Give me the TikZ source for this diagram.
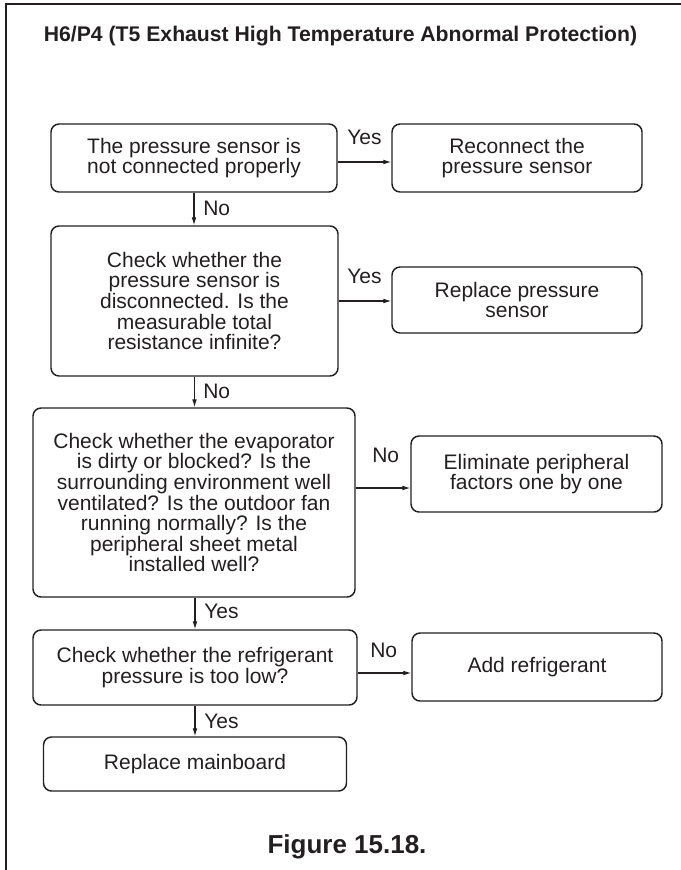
\documentclass[tikz,border=0pt]{standalone}
\usepackage{fontspec}
\setmainfont{Liberation Sans}
\usetikzlibrary{arrows.meta}
\definecolor{ink}{HTML}{231F20}
\def\pxu{0.75pt}
\begin{document}
\begin{tikzpicture}[x=0.75pt,y=-0.75pt,
  box/.style={draw=ink, line width=1.1pt, rounded corners=6pt, align=center, text=ink,
    font=\fontsize{15.75}{15.4}\selectfont, inner sep=0pt},
  lbl/.style={text=ink, font=\fontsize{15.75}{15.4}\selectfont, inner sep=0pt},
  arr/.style={draw=ink, line width=0.8pt, -{Latex[length=6pt,width=3.6pt]}},
]
\useasboundingbox (0,0) rectangle (681,870);
\draw[ink, line width=1.1pt] (6,870) -- (6,4) -- (681,4);

\node[lbl, anchor=base, font=\bfseries\fontsize{15.9}{18}\selectfont] (title) at (340.5,42)
  {H6/P4 (T5 Exhaust High Temperature Abnormal Protection)};

\node[box, minimum width={286*\pxu}, minimum height={68*\pxu}] (b1) at (194,158)
  {The pressure sensor is\\not connected properly};
\node[box, minimum width={250*\pxu}, minimum height={68*\pxu}] (b2) at (517,158)
  {Reconnect the\\pressure sensor};
\node[box, minimum width={287*\pxu}, minimum height={150*\pxu}] (b3) at (194.5,301)
  {Check whether the\\pressure sensor is\\disconnected. Is the\\measurable total\\resistance infinite?};
\node[box, minimum width={250*\pxu}, minimum height={66*\pxu}] (b4) at (517,300)
  {Replace pressure\\sensor};
\node[box, minimum width={322*\pxu}, minimum height={189*\pxu}] (b5) at (194,502.5)
  {Check whether the evaporator\\is dirty or blocked? Is the\\surrounding environment well\\ventilated? Is the outdoor fan\\running normally? Is the\\peripheral sheet metal\\installed well?};
\node[box, minimum width={251*\pxu}, minimum height={76*\pxu}] (b6) at (536.5,474)
  {Eliminate peripheral\\factors one by one};
\node[box, minimum width={324*\pxu}, minimum height={75*\pxu}] (b7) at (195,667.5)
  {Check whether the refrigerant\\pressure is too low?};
\node[box, minimum width={250*\pxu}, minimum height={68*\pxu}] (b8) at (537,667)
  {Add refrigerant};
\node[box, minimum width={303*\pxu}, minimum height={54*\pxu}] (b9) at (195,764)
  {Replace mainboard};

% connectors
\draw[arr] ([yshift={-4*\pxu}]b1.east) -- ([yshift={-4*\pxu}]b1.east -| b2.west);
\draw[arr] (b3.east) -- (b3.east -| b4.west);
\draw[arr] ([yshift={14.5*\pxu}]b5.east) -- ([yshift={14.5*\pxu}]b5.east -| b6.west);
\draw[arr] ([yshift={-5.5*\pxu}]b7.east) -- ([yshift={-5.5*\pxu}]b7.east -| b8.west);
\draw[arr] (b1.south) -- (b1.south |- b3.north);
\draw[arr] (b3.south) -- (b3.south |- b5.north);
\draw[arr] (b7.north |- b5.south) -- (b7.north);
\draw[arr] (b7.south) -- (b7.south |- b9.north);

% labels
\node[lbl, anchor=base west] (y1) at (347,145) {Yes};
\node[lbl, anchor=base west] (y2) at (347,283) {Yes};
\node[lbl, anchor=base west] (n3) at (372,462) {No};
\node[lbl, anchor=base west] (n4) at (370,657) {No};
\node[lbl, anchor=base west] (n1) at (203,215) {No};
\node[lbl, anchor=base west] (n2) at (203,398) {No};
\node[lbl, anchor=base west] (y3) at (204,618) {Yes};
\node[lbl, anchor=base west] (y4) at (204,728) {Yes};

\node[lbl, anchor=base, font=\bfseries\fontsize{19.5}{22}\selectfont] (cap) at (347,853) {Figure 15.18.};
\end{tikzpicture}
\end{document}
